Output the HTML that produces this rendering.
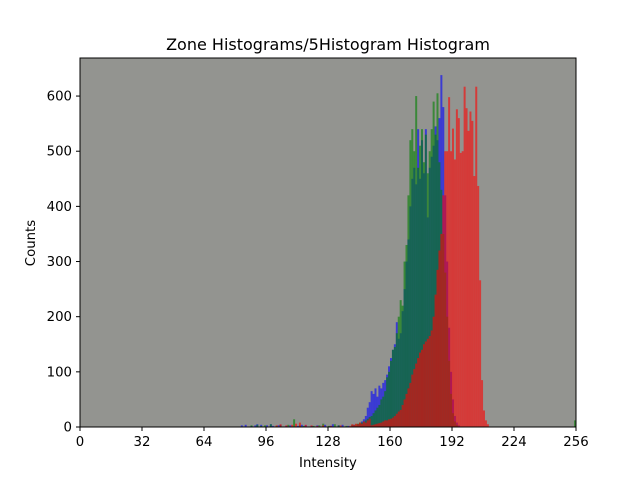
<!DOCTYPE html>
<html><head><meta charset="utf-8"><style>
body{margin:0;background:#fff;}
svg text{font-family:"DejaVu Sans","Liberation Sans",sans-serif;fill:#000;}
</style></head><body>
<svg id="chart" width="640" height="480" xmlns="http://www.w3.org/2000/svg">
<rect x="0" y="0" width="640" height="480" fill="#fff"/>
<text x="328" y="50" font-size="16" text-anchor="middle">Zone Histograms/5Histogram Histogram</text>
<rect x="80" y="58" width="496" height="369" fill="#939490"/>
<g id="bars"></g>
<g id="axes"></g>
<text x="328" y="467" font-size="13.3" text-anchor="middle">Intensity</text>
<text x="35" y="243" font-size="13.3" text-anchor="middle" transform="rotate(-90 35 243)">Counts</text>
</svg>
<script>
const xTicks=[0,32,64,96,128,160,192,224,256];
const yTicks=[0,100,200,300,400,500,600];
const blueStart=83;
const blueCounts=[3,0,4,0,0,2,0,3,5,0,4,0,0,3,0,5,2,0,0,3,4,0,0,2,0,3,0,0,0,2,0,4,0,3,0,0,2,0,0,3,0,0,0,4,0,0,2,5,0,0,3,0,4,0,0,2,0,3,
4,2,5,6,10,14,20,35,45,65,60,70,55,75,70,80,85,95,110,125,140,150,190,160,170,210,250,300,340,400,450,470,440,540,450,520,460,540,380,470,490,510,545,520,560,638,580,420,300,180,100,50,20,8,3];
const greenStart=88;
const greenCounts=[3,0,0,4,0,2,0,3,0,0,5,0,0,2,0,3,0,0,0,4,0,0,14,0,0,3,0,2,0,0,0,0,2,0,0,3,0,6,0,0,2,0,0,5,0,3,0,0,0,2,0,0,
4,3,5,6,8,8,10,12,15,18,20,25,30,35,40,50,55,65,90,100,120,140,145,170,200,230,220,300,330,420,520,540,500,600,470,510,540,480,530,460,500,540,590,530,605,480,430,350,280,200,120,60,25,10,4];
const greenEdgeBin=[255];
const greenEdgeCount=[12];
const redStart=100;
const redCounts=[0,3,0,5,0,0,3,0,0,4,0,6,0,8,0,0,4,0,0,3,0,0,2,0,0,3,0,0,0,2,0,0,0,0,3,0,0,0,0,2,
5,4,6,5,8,6,10,8,12,15,3,4,5,6,7,8,10,12,12,14,15,17,20,24,28,31,40,50,60,70,80,95,105,115,125,135,140,150,155,160,165,175,200,240,285,320,350,420,500,500,598,500,541,485,576,560,497,500,617,578,537,572,555,455,617,437,266,85,30,12,5];
const X=v=>80+v*496/256;
const Y=c=>427-c*369/669;
const NS="http://www.w3.org/2000/svg";
const bars=document.getElementById('bars');
function series(start,counts,color,name){
  const g=document.createElementNS(NS,'g');
  
  
  counts.forEach((c,i)=>{
    if(c<=0)return;
    const v=start+i;
    const r=document.createElementNS(NS,'rect');
    
    
    r.setAttribute('x',X(v));r.setAttribute('width',X(v+1)-X(v)+0.05);
    r.setAttribute('y',Y(c));r.setAttribute('height',427-Y(c));
    r.setAttribute('fill',color);r.setAttribute('fill-opacity','0.6');
    g.appendChild(r);
  });
  bars.appendChild(g);
}
series(blueStart,blueCounts,'#0000ff','blue');
series(greenStart,greenCounts,'#008000','green');
greenEdgeBin.forEach((b,i)=>series(b,[greenEdgeCount[i]],'#008000','green-edge'));
series(redStart,redCounts,'#ff0000','red');
const ax=document.getElementById('axes');
let h='<rect x="80" y="58" width="496" height="369" fill="none" stroke="#000" stroke-width="1"/>';
xTicks.forEach(t=>{const x=X(t);h+=`<line x1="${x}" x2="${x}" y1="427" y2="431" stroke="#000"/><text x="${x}" y="446" font-size="13.3" text-anchor="middle">${t}</text>`;});
yTicks.forEach(t=>{const y=Y(t);h+=`<line x1="76" x2="80" y1="${y}" y2="${y}" stroke="#000"/><text x="72" y="${y+4.5}" font-size="13.3" text-anchor="end">${t}</text>`;});
ax.innerHTML=h;
</script>
</body></html>
